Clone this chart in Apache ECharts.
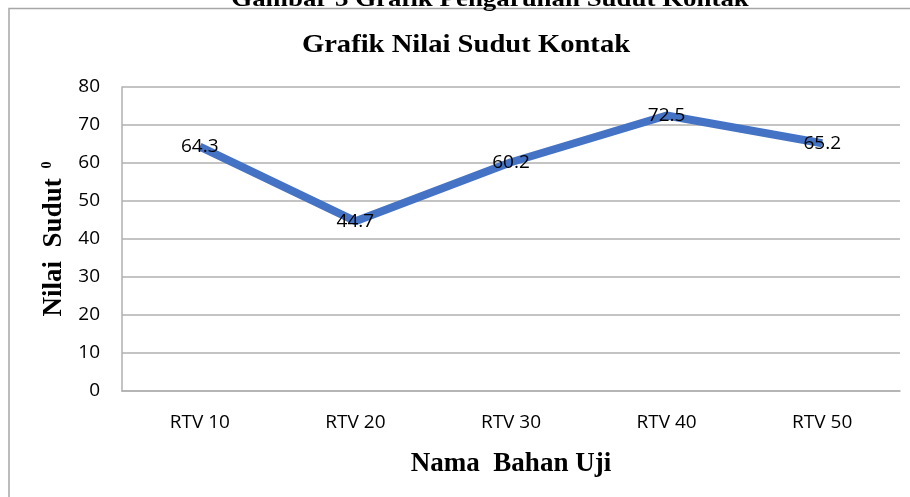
<!DOCTYPE html>
<html>
<head>
<meta charset="utf-8">
<script src="https://cdn.jsdelivr.net/npm/echarts@6/dist/echarts.min.js"></script>
<style>html,body{margin:0;padding:0;background:#fff;}#c{width:910px;height:497px;}</style>
</head>
<body>
<div id="c"></div>
<script>
const categories = ['RTV 10', 'RTV 20', 'RTV 30', 'RTV 40', 'RTV 50'];
const sudutValues = [64.3, 44.7, 60.2, 72.5, 65.2];
const yTicks = { min: 0, max: 80, interval: 10 };
const chartTitle = 'Grafik Nilai Sudut Kontak';
const captionText = 'Gambar 3 Grafik Pengaruhan Sudut Kontak';
const xName = 'Nama  Bahan Uji';
const yName = 'Nilai  Sudut {s|0}';

const chart = echarts.init(document.getElementById('c'), null, { renderer: 'canvas' });
const serif = '"Liberation Serif", "Times New Roman", serif';
const sans = '"Open Sans", "Liberation Sans", sans-serif';
chart.setOption({
  animation: false,
  backgroundColor: '#ffffff',
  grid: { left: 122, right: 10, top: 87, bottom: 106, containLabel: false },
  graphic: [
    { type: 'rect', z: 0, shape: { x: 9, y: 8.5, width: 1000, height: 1000 },
      style: { fill: 'none', stroke: '#a6a6a6', lineWidth: 1.5 } },
    { type: 'text', x: 490, y: 0, scaleX: 1.12, originX: 0, originY: 0,
      style: { text: captionText, font: 'bold 24px ' + serif, fill: '#000', align: 'center', verticalAlign: 'middle' } },
    { type: 'text', x: 466, y: 45, scaleX: 1.1, originX: 0, originY: 0,
      style: { text: chartTitle, font: 'bold 26px ' + serif, fill: '#000', align: 'center', verticalAlign: 'middle' } }
  ],
  xAxis: {
    type: 'category',
    data: categories,
    boundaryGap: true,
    name: xName,
    nameLocation: 'middle',
    nameGap: 60,
    nameTextStyle: { fontFamily: serif, fontWeight: 'bold', fontSize: 27, color: '#000' },
    axisLine: { show: true, lineStyle: { color: '#b0b0b0', width: 1.5 } },
    axisTick: { show: false },
    axisLabel: { fontFamily: sans, fontSize: 19, color: '#000', margin: 22 },
    splitLine: { show: false }
  },
  yAxis: {
    type: 'value',
    min: yTicks.min, max: yTicks.max, interval: yTicks.interval,
    name: yName,
    nameLocation: 'middle',
    nameGap: 50,
    nameRotate: 90,
    nameTextStyle: { fontFamily: serif, fontWeight: 'bold', fontSize: 27, color: '#000',
      rich: { s: { fontFamily: serif, fontWeight: 'bold', fontSize: 14, color: '#000', verticalAlign: 'top', padding: [0, 0, 12, 3] } } },
    axisLine: { show: true, lineStyle: { color: '#b0b0b0', width: 1.5 } },
    axisTick: { show: false },
    axisLabel: { fontFamily: sans, fontSize: 19, color: '#000', margin: 22 },
    splitLine: { show: true, lineStyle: { color: '#b0b0b0', width: 1.5 } }
  },
  series: [{
    type: 'line',
    data: sudutValues,
    symbol: 'circle',
    symbolSize: 0.1,
    showSymbol: true,
    lineStyle: { color: '#4472C4', width: 8 },
    itemStyle: { color: '#4472C4' },
    label: { show: true, position: 'inside', fontFamily: sans, fontSize: 19, color: '#000' },
    z: 3
  }]
});
</script>
</body>
</html>
